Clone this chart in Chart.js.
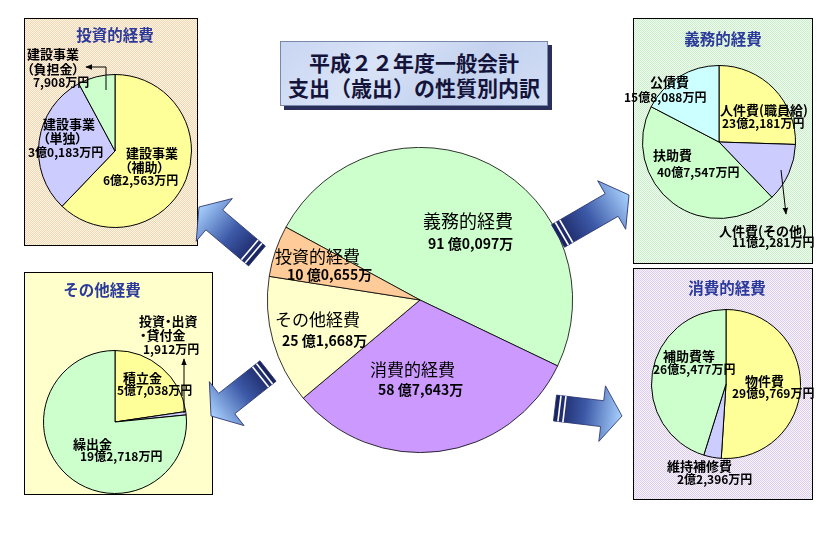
<!DOCTYPE html>
<html><head><meta charset="utf-8">
<script src="https://cdn.jsdelivr.net/npm/chart.js@4/dist/chart.umd.min.js"></script>
<style>
html,body{margin:0;padding:0;background:#fff;}
#stage{position:relative;width:834px;height:541px;background:#fff;overflow:hidden;font-family:"Noto Sans CJK JP","Noto Sans",sans-serif;}
.box{position:absolute;border:1px solid #000;box-sizing:border-box;}
canvas{position:absolute;}
.lbl{position:absolute;white-space:nowrap;line-height:1;transform:translateY(-50%);color:#000;}
.palt{font-feature-settings:"palt";}
#title{position:absolute;left:280px;top:41px;width:268px;height:65px;box-sizing:border-box;border:1px solid #7788aa;
 background:linear-gradient(135deg,#c9d6f2 0%,#d9e3f7 35%,#c4d2ef 65%,#d3def5 100%);box-shadow:4px 4px 0 #2a2f5a;
 text-align:center;font-weight:bold;font-size:21px;line-height:25px;color:#14143a;padding-top:8px;}
svg{position:absolute;left:0;top:0;}
</style></head>
<body>
<div id="stage">
  <div class="box" style="left:24px;top:18px;width:174px;height:228px;background:repeating-conic-gradient(#f4d6ad 0 25%,#fdf6ec 0 50%) 0 0/2px 2px;"></div>
  <div class="box" style="left:633px;top:18px;width:180px;height:246px;background:repeating-conic-gradient(#c8efc8 0 25%,#f2fbf2 0 50%) 0 0/2px 2px;"></div>
  <div class="box" style="left:24px;top:272px;width:189px;height:223px;background:#ffffcc;"></div>
  <div class="box" style="left:633px;top:268px;width:180px;height:232px;background:repeating-conic-gradient(#dccdec 0 25%,#f8f4fb 0 50%) 0 0/2px 2px;"></div>
  <div id="title">平成２２年度一般会計<br>支出（歳出）の性質別内訳</div>
  <canvas id="cMain"></canvas>
  <canvas id="cInvest"></canvas>
  <canvas id="cMand"></canvas>
  <canvas id="cOther"></canvas>
  <canvas id="cCons"></canvas>
  <svg id="ov" width="834" height="541"></svg>
</div>
<script>
// ===== DATA (values in 万円) =====
const mainCategories = ['義務的経費', '消費的経費', 'その他経費', '投資的経費'];
const mainValues = [910097, 587643, 251668, 100655];

const investCategories = ['建設事業（補助）', '建設事業（単独）', '建設事業（負担金）'];
const investValues = [62563, 30183, 7908];

const mandCategories = ['人件費(職員給)', '人件費(その他)', '扶助費', '公債費'];
const mandValues = [232181, 112281, 407547, 158088];

const otherCategories = ['積立金', '投資・出資・貸付金', '繰出金'];
const otherValues = [57038, 1912, 192718];

const consCategories = ['物件費', '維持補修費', '補助費等'];
const consValues = [299769, 22396, 265477];

// ===== helpers =====
function fmt(v, unit, sp) {
  const oku = Math.floor(v / 10000), man = v % 10000;
  if (oku > 0) { const s = String(man).padStart(4, '0'); return oku + (sp ? ' ' : '') + '億' + s[0] + ',' + s.slice(1) + unit; }
  return man.toLocaleString('en-US') + unit;
}
const Y = '#ffff99', L = '#ccccff', G = '#ccffcc', C = '#ccffff';

function pie(id, cx, cy, r, labels, values, colors, rotation, bw) {
  const size = 2 * r + 2;
  const cv = document.getElementById(id);
  cv.width = size; cv.height = size;
  cv.style.left = (cx - size / 2) + 'px'; cv.style.top = (cy - size / 2) + 'px';
  cv.style.width = size + 'px'; cv.style.height = size + 'px';
  new Chart(cv, {
    type: 'pie',
    data: { labels: labels, datasets: [{ data: values, backgroundColor: colors, borderColor: '#000', borderWidth: bw, hoverOffset: 0, offset: 0 }] },
    options: { responsive: false, animation: false, devicePixelRatio: 1, rotation: rotation,
      layout: { padding: 0 }, plugins: { legend: { display: false }, tooltip: { enabled: false } }, events: [] }
  });
}
pie('cMain', 420, 300, 152, mainCategories, mainValues, ['#ccffcc', '#cc99ff', '#ffffcc', '#ffcc99'], 298.5, 0.8);
pie('cInvest', 115, 151, 76, investCategories, investValues, [Y, L, G], 0, 1);
pie('cMand', 719, 142, 76, mandCategories, mandValues, [Y, L, G, C], 0, 1);
pie('cOther', 115, 422, 71, otherCategories, otherValues, [Y, L, G], 0, 1);
pie('cCons', 726, 384, 74, consCategories, consValues, [Y, L, G], 0, 1);

// ===== text labels =====
const stage = document.getElementById('stage');
function lbl(t, x, y, size, bold, color, center, cls) {
  const d = document.createElement('div');
  d.className = 'lbl' + (cls ? ' ' + cls : ''); d.textContent = t;
  d.style.left = x + 'px'; d.style.top = y + 'px'; d.style.fontSize = size + 'px';
  d.style.fontWeight = bold ? 'bold' : 'normal';
  if (color) d.style.color = color;
  if (center) d.style.transform = 'translate(-50%,-50%)';
  stage.appendChild(d);
}
// main pie
lbl(mainCategories[0], 423, 220, 18, false); lbl(fmt(mainValues[0], '万', true), 428, 243, 14, true);
lbl(mainCategories[3], 275, 255, 17, false); lbl(fmt(mainValues[3], '万', true), 287, 274, 14, true);
lbl(mainCategories[2], 275, 318, 17, false); lbl(fmt(mainValues[2], '万', true), 282, 340, 14, true);
lbl(mainCategories[1], 370, 368, 17, false); lbl(fmt(mainValues[1], '万', true), 378, 389, 14, true);

// box titles
const TC = '#2b3a9a';
lbl('投資的経費', 115, 35, 15.5, true, TC, true);
lbl('義務的経費', 723, 39, 15.5, true, TC, true);
lbl('その他経費', 102, 290, 15.5, true, TC, true);
lbl('消費的経費', 727, 288, 15.5, true, TC, true);

const S = 13, N = 12;
// invest
lbl('建設事業', 27, 53, S, true); lbl('（負担金）', 27, 68, S, true, null, false, 'palt'); lbl(fmt(investValues[2], '万円'), 33, 82, N, true);
lbl('建設事業', 43, 123, S, true); lbl('（単独）', 43, 137, S, true, null, false, 'palt'); lbl(fmt(investValues[1], '万円'), 28, 152, N, true);
lbl('建設事業', 126, 152, S, true); lbl('（補助）', 125, 166, S, true, null, false, 'palt'); lbl(fmt(investValues[0], '万円'), 103, 180, N, true);
// mandatory
lbl('公債費', 650, 81, S, true); lbl(fmt(mandValues[3], '万円'), 624, 97, N, true);
lbl('人件費(職員給)', 720, 109, S, true); lbl(fmt(mandValues[0], '万円'), 722, 123, N, true);
lbl('扶助費', 653, 154, S, true); lbl(fmt(mandValues[2], '万円'), 657, 172, N, true);
lbl('人件費(その他)', 719, 230, S, true); lbl(fmt(mandValues[1], '万円'), 732, 242, N, true);
// other
lbl('投資・出資', 139, 320, S, true, null, false, 'palt'); lbl('・貸付金', 140, 334, S, true, null, false, 'palt'); lbl(fmt(otherValues[1], '万円'), 143, 349, N, true);
lbl('積立金', 123, 377, S, true); lbl(fmt(otherValues[0], '万円'), 117, 390, N, true);
lbl('繰出金', 73, 443, S, true); lbl(fmt(otherValues[2], '万円'), 80, 456, N, true);
// consumption
lbl('補助費等', 663, 355, S, true); lbl(fmt(consValues[2], '万円'), 653, 369, N, true);
lbl('物件費', 745, 380, S, true); lbl(fmt(consValues[0], '万円'), 732, 393, N, true);
lbl('維持補修費', 667, 465, S, true); lbl(fmt(consValues[1], '万円'), 677, 479, N, true);

// ===== decorative arrows & leader lines =====
const ov = document.getElementById('ov');
let defs = '<defs><linearGradient id="ag" x1="0" y1="0" x2="1" y2="0"><stop offset="0" stop-color="#18215e"/><stop offset="0.45" stop-color="#3d5aa8"/><stop offset="1" stop-color="#a9d2ff"/></linearGradient>' +
  '<marker id="mk" viewBox="0 0 10 10" refX="9" refY="5" markerWidth="7" markerHeight="7" orient="auto"><path d="M0,1 L10,5 L0,9 Z" fill="#000"/></marker></defs>';
function bigArrow(tx, ty, hx, hy) {
  const dx = hx - tx, dy = hy - ty, len = Math.hypot(dx, dy), ang = Math.atan2(dy, dx) * 180 / Math.PI;
  const hl = 20, sh = 13, hh = 28, b = len - hl;
  return `<g transform="translate(${tx},${ty}) rotate(${ang})">` +
    `<path d="M0,${-sh} L${b},${-sh} L${b},${-hh} L${len},0 L${b},${hh} L${b},${sh} L0,${sh} Z" fill="url(#ag)" stroke="#2a3470" stroke-width="0.8"/>` +
    `<line x1="4.5" y1="${-sh}" x2="4.5" y2="${sh}" stroke="#fff" stroke-width="1.6"/>` +
    `<line x1="9.5" y1="${-sh}" x2="9.5" y2="${sh}" stroke="#fff" stroke-width="1.6"/></g>`;
}
let s = defs;
s += bigArrow(257, 256, 199, 207);
s += bigArrow(558, 236, 629, 195);
s += bigArrow(268, 371, 211, 416);
s += bigArrow(555, 408, 622, 416);
s += '<polyline points="106,90 106,67 86,67" fill="none" stroke="#000" stroke-width="1" marker-end="url(#mk)"/>';
s += '<line x1="781" y1="170" x2="786" y2="214" stroke="#000" stroke-width="1" marker-end="url(#mk)"/>';
s += '<line x1="184" y1="413" x2="184" y2="359" stroke="#000" stroke-width="1" marker-end="url(#mk)"/>';
ov.innerHTML = s;
</script>
</body></html>
